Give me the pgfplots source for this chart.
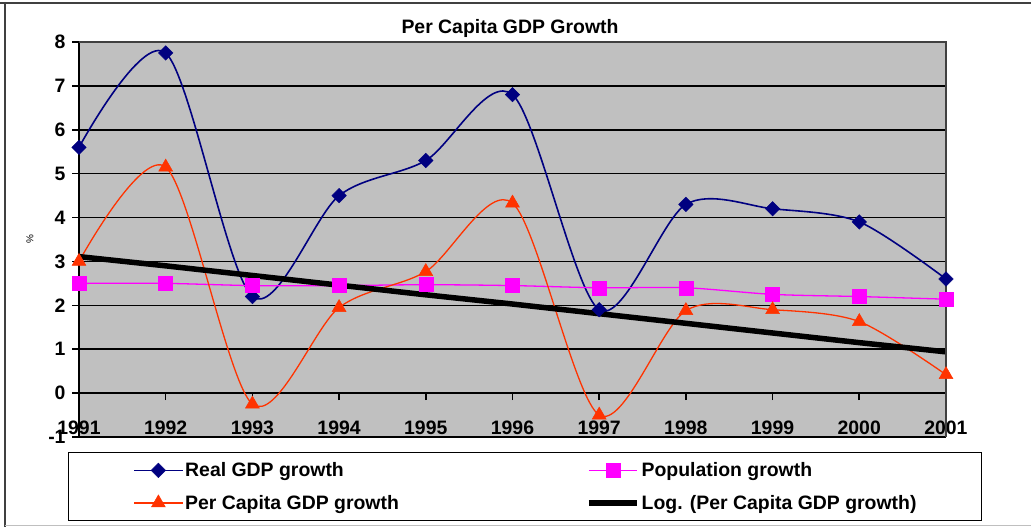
\documentclass[border=0pt]{standalone}
\usepackage{pgfplots}
\pgfplotsset{compat=1.18}
\usepackage{pgfplotstable}
\usepackage{fontspec}
\setmainfont{Liberation Sans}

\definecolor{plotgray}{RGB}{192,192,192}
\definecolor{gdpblue}{RGB}{0,0,128}
\definecolor{popmag}{RGB}{255,0,255}
\definecolor{pcred}{RGB}{255,51,0}
\definecolor{framegray}{RGB}{64,64,64}

% growth rates in percent; trend = logarithmic fit of per capita growth
\pgfplotstableread{
year real pop  pc    trend
1991 5.6  2.50  3.00 3.11
1992 7.75 2.50  5.15 2.90
1993 2.2  2.45 -0.25 2.68
1994 4.5  2.45  1.95 2.46
1995 5.3  2.47  2.77 2.24
1996 6.8  2.45  4.33 2.03
1997 1.9  2.40 -0.50 1.81
1998 4.3  2.40  1.88 1.59
1999 4.2  2.25  1.90 1.37
2000 3.9  2.20  1.63 1.15
2001 2.6  2.14  0.42 0.94
}\growthdata

\newcommand{\chartfont}{\fontsize{19.5}{23}\selectfont\bfseries}

\begin{document}
\begin{tikzpicture}
\path[use as bounding box] (-79bp,-90bp) rectangle (952bp,437bp);
% chart frame
\draw[framegray, line width=2.5bp] (-79bp,434bp) -- (952bp,434bp);
\draw[framegray, line width=2.5bp] (-74bp,435bp) -- (-74bp,-90bp);
\draw[black!25, line width=1bp] (-74bp,-88bp) -- (952bp,-88bp);
\node[font=\chartfont] at (431bp,409bp) {Per Capita GDP Growth};

\begin{axis}[
  at={(0,0)}, anchor=south west,
  scale only axis, width=867bp, height=395bp,
  xmin=1991, xmax=2001, ymin=-1, ymax=8,
  axis background/.style={fill=plotgray},
  % category axis crosses the value axis at zero
  axis x line=bottom, axis x line shift=-43.889bp,
  axis y line=left,
  axis line style={-, black, line width=1.5bp},
  xtick={1991,...,2001},
  ytick={-1,0,...,8},
  tick align=outside,
  major tick length=7bp,
  tick style={black, line width=1.5bp},
  ymajorgrids,
  major grid style={black, line width=1.5bp},
  /pgf/number format/assume math mode=true,
  tick label style={font=\chartfont},
  x tick label style={/pgf/number format/1000 sep={}, anchor=center, yshift=-27.5bp},
  y tick label style={xshift=-3bp},
  ylabel={\%},
  ylabel style={font=\fontsize{10}{12}\selectfont, at={(axis description cs:-0.0565,0.5)}, anchor=center},
  clip=false,
  legend columns=2,
  legend cell align=left,
  legend image code/.code={\draw[mark repeat=2,mark phase=2] plot coordinates {(0bp,0bp)(24bp,0bp)(48bp,0bp)};},
  legend style={
    at={(axis description cs:-0.0127,-0.038)}, anchor=north west,
    draw=black, line width=1.2bp, fill=white,
    font=\chartfont,
    inner xsep=65bp, inner ysep=8bp,
    row sep=13bp,
  },
]
\addplot[gdpblue, line width=1.6bp, smooth, mark=square*, mark size=5.1bp,
  mark options={rotate=45, fill=gdpblue, draw=gdpblue, line width=0.5bp}]
  table[x=year, y=real] {\growthdata};
\addlegendentry{\makebox[399bp][l]{Real GDP growth}}
\addplot[popmag, line width=1.3bp, smooth, mark=square*, mark size=7bp,
  mark options={fill=popmag, draw=popmag, line width=0.5bp}]
  table[x=year, y=pop] {\growthdata};
\addlegendentry{\makebox[273bp][l]{Population growth}}
\addplot[pcred, line width=1.3bp, smooth, mark=triangle*, mark size=8bp,
  mark options={fill=pcred, draw=pcred, line width=0.5bp}]
  table[x=year, y=pc] {\growthdata};
\addlegendentry{\makebox[399bp][l]{Per Capita GDP growth}}
\addplot[black, line width=5.5bp, no markers]
  table[x=year, y=trend] {\growthdata};
\addlegendentry{\makebox[273bp][l]{Log. (Per Capita GDP growth)}}
% plot area border
\draw[framegray, line width=2.5bp] (rel axis cs:0,1) -- (rel axis cs:1,1) -- (rel axis cs:1,0);
\end{axis}
\end{tikzpicture}
\end{document}
